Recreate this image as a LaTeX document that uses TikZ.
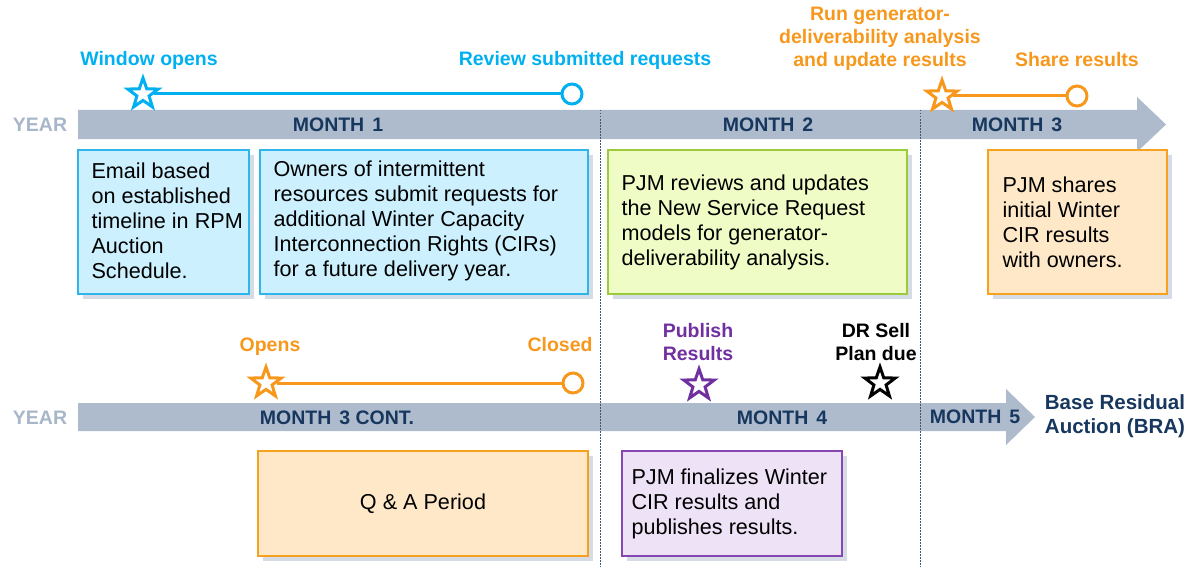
\documentclass[tikz,border=0pt]{standalone}
\usepackage{fontspec}
\setmainfont{Liberation Sans}
\usetikzlibrary{shapes.geometric,shadows}
\definecolor{cy}{HTML}{00B0F0}
\definecolor{orng}{HTML}{F7981D}
\definecolor{purp}{HTML}{7030A0}
\definecolor{navy}{HTML}{17375E}
\definecolor{barc}{HTML}{ADBBCD}
\definecolor{yearc}{HTML}{A7B6C9}
\definecolor{dotc}{HTML}{3F5878}
\definecolor{shadc}{HTML}{D5DCE6}
\definecolor{bluef}{HTML}{CCF0FD}
\definecolor{blueb}{HTML}{2DB5EC}
\definecolor{greenf}{HTML}{EFFCC6}
\definecolor{greenb}{HTML}{9CCB3A}
\definecolor{peachf}{HTML}{FEE8C8}
\definecolor{peachb}{HTML}{F7A21E}
\definecolor{lavf}{HTML}{EEE2F6}
\definecolor{lavb}{HTML}{8747B3}
\begin{document}
\begin{tikzpicture}[x=1pt,y=-1pt,
  lbl/.style={font=\fontsize{19.5}{23}\selectfont\bfseries, align=center, inner sep=0pt},
  month/.style={font=\fontsize{19.5}{22}\selectfont\bfseries, text=navy, inner sep=0pt},
  yearlbl/.style={font=\fontsize{19.5}{22}\selectfont\bfseries, text=yearc, inner sep=0pt},
  boxtxt/.style={font=\fontsize{21.6}{25}\selectfont, align=left, inner sep=0pt, anchor=west, text=black},
  card/.style={rectangle, line width=1.3pt, inner sep=0pt,
    general shadow={fill=shadc, shadow xshift=5pt, shadow yshift=-5pt}},
  mstar/.style={star, star points=5, star point ratio=2.5, minimum size=32pt, inner sep=0pt, line width=3pt, fill=white},
  mcirc/.style={circle, minimum size=20pt, inner sep=0pt, line width=3pt, fill=white},
  conn/.style={line width=3pt},
  divider/.style={dotc, line width=1pt, dash pattern=on 1.5pt off 1.5pt}
]
\useasboundingbox (0,0) rectangle (1198,567);

% bars
\fill[barc] (78,110) -- (1137,110) -- (1137,97) -- (1166,124.5) -- (1137,152) -- (1137,139) -- (78,139) -- cycle;
\fill[barc] (78,403) -- (1006,403) -- (1006,389) -- (1035,417) -- (1006,445) -- (1006,431) -- (78,431) -- cycle;

% dividers
\coordinate (d1t) at (600,110); \coordinate (d1b) at (600,567);
\coordinate (d2t) at (920,110); \coordinate (d2b) at (920,567);
\draw[divider] (d1t) -- (d1b);
\draw[divider] (d2t) -- (d2b);

% bar labels
\node[yearlbl] (y1) at (40,125) {YEAR};
\node[month] (m1) at (338,125) {MONTH\hspace{8pt}1};
\node[month] (m2) at (768,125) {MONTH\hspace{8pt}2};
\node[month] (m3) at (1017,125) {MONTH\hspace{8pt}3};
\node[yearlbl] (y2) at (40,418) {YEAR};
\node[month] (m3c) at (337,418) {MONTH\hspace{8pt}3 CONT.};
\node[month] (m4) at (782,418) {MONTH\hspace{8pt}4};
\node[month] (m5) at (975,417) {MONTH\hspace{8pt}5};
\node[lbl, font=\fontsize{20.5}{24}\selectfont\bfseries, text=navy] (bra) at (1115,416) {Base Residual\\Auction (BRA)};

% top milestones
\node[lbl, text=cy] (wo) at (149,60) {Window opens};
\node[lbl, text=cy] (rsr) at (585,60) {Review submitted requests};
\node[lbl, text=orng] (rg) at (880,39) {Run generator-\\deliverability analysis\\and update results};
\node[lbl, text=orng] (sr) at (1077,60) {Share results};
\node[mstar, draw=cy] (s1) at (143,94) {};
\node[mcirc, draw=cy] (c1) at (572,94) {};
\draw[conn, cy] (s1) -- (c1);
\node[mstar, draw=orng] (s2) at (942,96) {};
\node[mcirc, draw=orng] (c2) at (1077,96) {};
\draw[conn, orng] (s2) -- (c2);

% bottom milestones
\node[lbl, text=orng] (op) at (270,347) {Opens};
\node[lbl, text=orng] (cl) at (560,345) {Closed};
\node[mstar, draw=orng] (s3) at (266,383) {};
\node[mcirc, draw=orng] (c3) at (573,383) {};
\draw[conn, orng] (s3) -- (c3);
\node[lbl, text=purp] (pr) at (698,342) {Publish\\Results};
\node[mstar, draw=purp] (s4) at (699,385) {};
\node[lbl, text=black] (dr) at (876,342) {DR Sell\\Plan due};
\node[mstar, draw=black] (s5) at (880,383) {};

% top cards
\node[card, fill=bluef, draw=blueb, minimum width=171pt, minimum height=144pt] (ba) at (163.5,222) {};
\node[boxtxt] (ta) at ([xshift=14pt,yshift=1.5pt]ba.west) {Email based\\on established\\timeline in RPM\\Auction\\Schedule.};
\node[card, fill=bluef, draw=blueb, minimum width=328pt, minimum height=144pt] (bb) at (424,222) {};
\node[boxtxt] (tb) at ([xshift=14pt,yshift=1.5pt]bb.west) {Owners of intermittent\\resources submit requests for\\additional Winter Capacity\\Interconnection Rights (CIRs)\\for a future delivery year.};
\node[card, fill=greenf, draw=greenb, minimum width=299pt, minimum height=144pt] (bc) at (757.5,222) {};
\node[boxtxt] (tc) at ([xshift=14pt]bc.west) {PJM reviews and updates\\the New Service Request\\models for generator-\\deliverability analysis.};
\node[card, fill=peachf, draw=peachb, minimum width=179pt, minimum height=144pt] (bd) at (1077.5,222) {};
\node[boxtxt] (td) at ([xshift=15pt]bd.west) {PJM shares\\initial Winter\\CIR results\\with owners.};

% bottom cards
\node[card, fill=peachf, draw=peachb, minimum width=330pt, minimum height=105pt] (be) at (423,503.5) {};
\node[font=\fontsize{21.6}{25}\selectfont, inner sep=0pt] (te) at (be.center) {Q \& A Period};
\node[card, fill=lavf, draw=lavb, minimum width=220pt, minimum height=105pt] (bf) at (732,503.5) {};
\node[boxtxt] (tf) at ([xshift=10pt]bf.west) {PJM finalizes Winter\\CIR results and\\publishes results.};
\end{tikzpicture}
\end{document}
